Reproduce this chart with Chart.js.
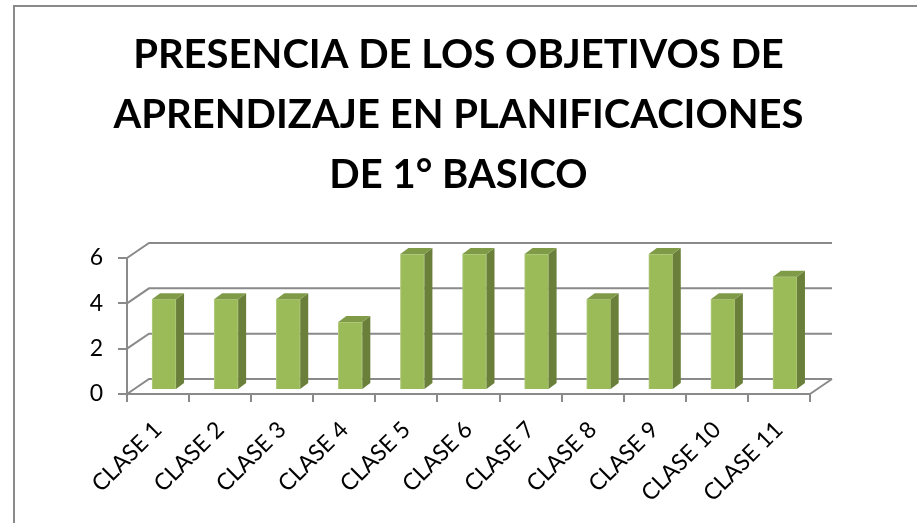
<!DOCTYPE html>
<html>
<head>
<meta charset="utf-8">
<script src="https://cdn.jsdelivr.net/npm/chart.js@4/dist/chart.umd.min.js"></script>
<style>
    body { margin: 0; background: #fff; }
    #wrap { width: 917px; height: 523px; }
</style>
</head>
<body>
<div id="wrap"><canvas id="planChart" width="917" height="523"></canvas></div>
<script>
// data
const categories = ['CLASE 1', 'CLASE 2', 'CLASE 3', 'CLASE 4', 'CLASE 5', 'CLASE 6',
                    'CLASE 7', 'CLASE 8', 'CLASE 9', 'CLASE 10', 'CLASE 11'];
const values = [4, 4, 4, 3, 6, 6, 6, 4, 6, 4, 5];
const titleLines = ['PRESENCIA DE LOS OBJETIVOS DE', 'APRENDIZAJE EN PLANIFICACIONES', 'DE 1° BASICO'];
const yMin = 0, yMax = 6, yStep = 2;

const gridColor = '#8a8a8a';

// fake 3D: back wall, floor and bar sides
const threeD = {
    id: 'threeD',
    beforeDraw(chart) {
        const ctx = chart.ctx;
        ctx.save();
        ctx.strokeStyle = '#8a8a8a';
        ctx.lineWidth = 2;
        ctx.beginPath();
        ctx.moveTo(14, 523);
        ctx.lineTo(14, 6);
        ctx.lineTo(917, 6);
        ctx.stroke();
        ctx.restore();
    },
    beforeDatasetsDraw(chart) {
        const ctx = chart.ctx;
        const area = chart.chartArea;
        const y = chart.scales.y;
        const dx = 22, dy = -15;
        ctx.save();
        ctx.strokeStyle = gridColor;
        ctx.lineWidth = 2;
        y.ticks.forEach(t => {
            const py = y.getPixelForValue(t.value);
            ctx.beginPath();
            ctx.moveTo(area.left, py);
            ctx.lineTo(area.left + dx, py + dy);
            ctx.lineTo(area.right + dx, py + dy);
            ctx.stroke();
        });
        // right edge of the floor
        const base = y.getPixelForValue(yMin);
        ctx.beginPath();
        ctx.moveTo(area.right, base);
        ctx.lineTo(area.right + dx, base + dy);
        ctx.stroke();
        ctx.restore();

        ctx.save();
        ctx.translate(6, -4);
    },
    afterDatasetsDraw(chart) {
        const ctx = chart.ctx;
        const sx = 8, sy = -6;
        chart.getDatasetMeta(0).data.forEach(bar => {
            const p = bar.getProps(['x', 'y', 'base', 'width'], true);
            const l = p.x - p.width / 2, r = p.x + p.width / 2;
            ctx.fillStyle = '#6a7f3a';
            ctx.beginPath();
            ctx.moveTo(r, p.y);
            ctx.lineTo(r + sx, p.y + sy);
            ctx.lineTo(r + sx, p.base + sy);
            ctx.lineTo(r, p.base);
            ctx.closePath();
            ctx.fill();
            ctx.fillStyle = '#7f9b48';
            ctx.beginPath();
            ctx.moveTo(l, p.y);
            ctx.lineTo(l + sx, p.y + sy);
            ctx.lineTo(r + sx, p.y + sy);
            ctx.lineTo(r, p.y);
            ctx.closePath();
            ctx.fill();
        });
        ctx.restore();
    }
};

const ctx = document.getElementById('planChart').getContext('2d');
const planChart = new Chart(ctx, {
    type: 'bar',
    data: {
        labels: categories,
        datasets: [{
            data: values,
            backgroundColor: '#9bbb59',
            borderColor: '#b3cc80',
            borderWidth: 1,
            barThickness: 24,
            clip: false
        }]
    },
    options: {
        responsive: false,
        animation: false,
        events: [],
        layout: { padding: 0 },
        plugins: {
            legend: { display: false },
            tooltip: { enabled: false },
            title: {
                display: true,
                text: titleLines,
                color: '#000',
                font: { family: 'Lato', weight: 'bold', size: 40, lineHeight: 1.5 },
                padding: { top: 25, bottom: 53 }
            }
        },
        scales: {
            x: {
                grid: { display: true, drawOnChartArea: false, offset: true, color: gridColor, lineWidth: 2, tickLength: 8 },
                border: { display: true, color: gridColor, width: 2 },
                ticks: {
                    color: '#000',
                    font: { family: 'Lato', size: 23 },
                    minRotation: 45,
                    maxRotation: 45,
                    padding: 14,
                    autoSkip: false
                },
                afterFit: s => { s.height = 129; }
            },
            y: {
                min: yMin,
                max: yMax,
                grid: { display: true, drawOnChartArea: false, color: gridColor, lineWidth: 2, tickLength: 9 },
                border: { display: true, color: gridColor, width: 2 },
                ticks: {
                    stepSize: yStep,
                    color: '#000',
                    font: { family: 'Lato', size: 23 },
                    padding: 15
                },
                afterFit: s => { s.width = 127; }
            },
            yRight: {
                type: 'linear',
                position: 'right',
                grid: { display: false },
                border: { display: false },
                ticks: { display: false },
                afterFit: s => { s.width = 107; }
            }
        }
    },
    plugins: [threeD]
});
</script>
</body>
</html>
